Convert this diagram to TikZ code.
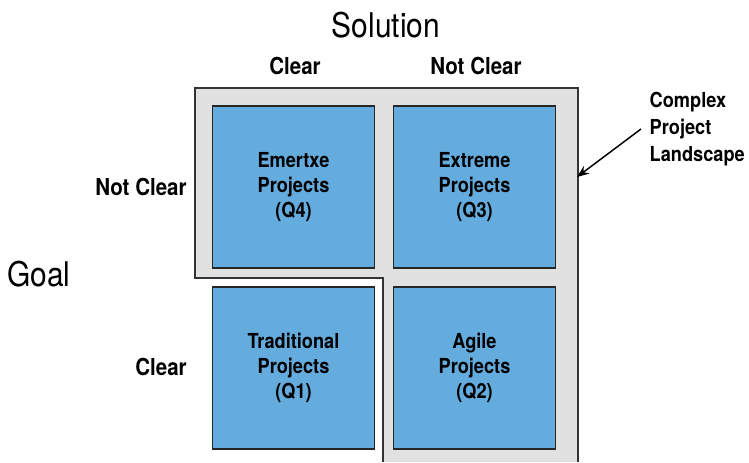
\documentclass[tikz,border=0pt]{standalone}
\usepackage{fontspec}
\setmainfont{TeX Gyre Heros}[FakeStretch=0.88]
\usetikzlibrary{arrows.meta}
\definecolor{quadblue}{HTML}{64ABDE}
\definecolor{landgray}{HTML}{E1E1E1}
\begin{document}
\begin{tikzpicture}[x=0.75pt,y=-0.75pt,
    quad/.style={draw=black!85, line width=0.9pt, fill=quadblue, minimum width=122pt, minimum height=121.5pt, align=center, font=\fontsize{15.5}{19}\selectfont\bfseries, inner sep=0pt},
    axislabel/.style={font=\fontsize{25.5}{30}\selectfont},
    sidelabel/.style={font=\fontsize{17.5}{21}\selectfont\bfseries}]
  \useasboundingbox (0,0) rectangle (749,462);

  % Landscape
  \fill[landgray] (195,88) -- (578,88) -- (578,462) -- (383,462) -- (383,278) -- (195,278) -- cycle;
  \draw[black!80, line width=1.1pt] (383,462) -- (383,278) -- (195,278) -- (195,88) -- (578,88) -- (578,462);

  % Quadrants
  \node[quad] (q4) at (293.5,187) {Emertxe\\Projects\\(Q4)};
  \node[quad] (q3) at (474.5,187) {Extreme\\Projects\\(Q3)};
  \node[quad] (q1) at (293.5,368) {Traditional\\Projects\\(Q1)};
  \node[quad] (q2) at (474.5,368) {Agile\\Projects\\(Q2)};

  % Axes
  \node[axislabel] (solution) at (386,25) {Solution};
  \node[axislabel] (goal) at (39,274) {Goal};
  \node[sidelabel] (solclear) at (295,66) {Clear};
  \node[sidelabel] (solnot) at (476,66) {Not Clear};
  \node[sidelabel] (goalnot) at (141,187) {Not Clear};
  \node[sidelabel] (goalclear) at (161,367) {Clear};

  % Pointer
  \node[font=\fontsize{15.5}{19}\selectfont\bfseries, align=left, anchor=west] (landscape) at (645,129) {Complex\\[1pt]Project\\[1pt]Landscape};
  \coordinate (edge) at (577,177);
  \draw[-{Stealth[length=9pt,width=7pt]}, line width=1.1pt] (landscape.west) ++(-3pt,0) -- (edge);
\end{tikzpicture}
\end{document}
